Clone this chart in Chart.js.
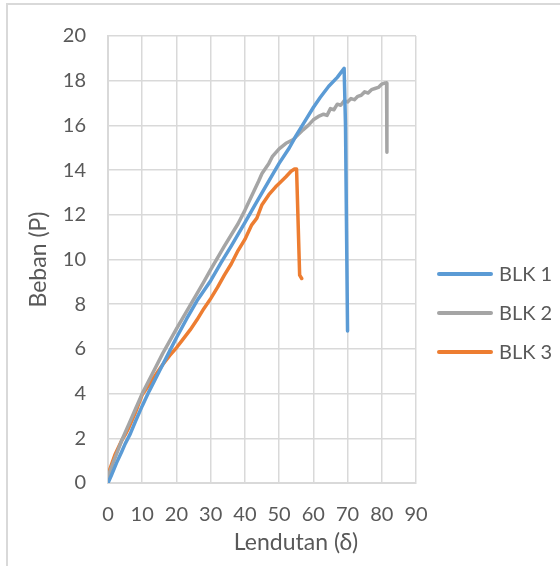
<!DOCTYPE html>
<html>
<head>
<meta charset="utf-8">
<script src="https://cdn.jsdelivr.net/npm/chart.js@4"></script>
<style>
  body{margin:0;background:#fff;}
  #wrap{position:relative;width:560px;height:566px;}
</style>
</head>
<body>
<div id="wrap"><canvas id="myChart" width="560" height="566"></canvas></div>
<script>
// data
const seriesNames = ["BLK 1", "BLK 2", "BLK 3"];
const seriesColors = ["#5B9BD5", "#A5A5A5", "#ED7D31"];

const blk1X = [0, 1, 2.5, 4, 5, 6.5, 8, 10, 12, 15, 18, 20, 23, 26, 30, 33, 36, 40, 43, 46, 50, 53, 55, 58, 60, 62, 64.5, 67, 69, 69.4, 70];
const blk1Y = [0, 0.35, 0.9, 1.4, 1.75, 2.2, 2.75, 3.45, 4.1, 5.0, 5.9, 6.5, 7.35, 8.15, 9.05, 9.85, 10.6, 11.65, 12.45, 13.25, 14.3, 15.0, 15.55, 16.3, 16.8, 17.25, 17.75, 18.15, 18.55, 16.0, 6.8];

const blk2X = [0, 0.5, 2, 4, 6, 8, 10, 13, 16, 20, 24, 28, 30, 34, 38, 40, 42, 44, 45, 47, 48, 50, 52, 54, 55, 57, 58.5, 60, 61.5, 63, 64, 65, 66, 67, 68, 69, 70, 71, 72, 73, 74, 75, 76, 77, 78, 79, 80, 81, 81.4, 81.5];
const blk2Y = [0, 0.5, 1.1, 1.9, 2.6, 3.3, 4.0, 4.9, 5.8, 6.9, 7.95, 9.0, 9.55, 10.6, 11.6, 12.2, 12.85, 13.5, 13.85, 14.3, 14.6, 14.95, 15.2, 15.35, 15.5, 15.8, 16.0, 16.25, 16.4, 16.5, 16.45, 16.75, 16.7, 16.95, 16.9, 17.1, 17.05, 17.2, 17.15, 17.3, 17.35, 17.5, 17.45, 17.6, 17.65, 17.7, 17.85, 17.9, 17.9, 14.8];

const blk3X = [0, 0.5, 2, 4, 5, 6, 8, 10, 12, 14, 16, 18, 20, 22, 24, 26, 28, 30, 32, 34, 36, 38, 40, 42, 43.5, 45, 47, 49, 50, 52, 53.5, 54.5, 55.1, 56, 56.6];
const blk3Y = [0.25, 0.6, 1.25, 1.9, 2.15, 2.45, 3.15, 3.95, 4.4, 4.85, 5.3, 5.7, 6.05, 6.45, 6.85, 7.3, 7.8, 8.25, 8.75, 9.3, 9.8, 10.4, 10.9, 11.55, 11.85, 12.45, 12.9, 13.25, 13.4, 13.7, 13.95, 14.05, 14.05, 9.3, 9.15];

const xTicks = [0, 10, 20, 30, 40, 50, 60, 70, 80, 90];
const yTicks = [0, 2, 4, 6, 8, 10, 12, 14, 16, 18, 20];

function toPoints(xs, ys){
    const pts = [];
    for (let i = 0; i < xs.length; i++) pts.push({x: xs[i], y: ys[i]});
    return pts;
}

const allX = [blk1X, blk2X, blk3X];
const allY = [blk1Y, blk2Y, blk3Y];

const FONT = "Lato, 'Open Sans', sans-serif";
const TXT = "#595959";

// frame, x title and legend drawn on the canvas
const extras = {
    id: "extras",
    beforeDraw(chart){
        const ctx = chart.ctx;
        ctx.save();
        ctx.strokeStyle = "#D9D9D9";
        ctx.lineWidth = 2;
        ctx.strokeRect(7, 4, 700, 700);
        ctx.restore();
    },
    afterDraw(chart){
        const ctx = chart.ctx;
        ctx.save();
        ctx.fillStyle = TXT;
        ctx.font = "23px " + FONT;
        ctx.textAlign = "center";
        ctx.textBaseline = "middle";
        ctx.fillText("Lendutan (\u03B4)", 296, 543);

        ctx.font = "20px " + FONT;
        ctx.textAlign = "left";
        chart.data.datasets.forEach(function(ds, i){
            const y = 274 + i * 39;
            ctx.strokeStyle = ds.borderColor;
            ctx.lineWidth = 4;
            ctx.lineCap = "round";
            ctx.beginPath();
            ctx.moveTo(439, y);
            ctx.lineTo(491, y);
            ctx.stroke();
            ctx.fillText(ds.label, 499, y + 1);
        });
        ctx.restore();
    }
};

new Chart("myChart", {
    type: "scatter",
    data: {
        datasets: seriesNames.map(function(name, i){
            return {
                label: name,
                data: toPoints(allX[i], allY[i]),
                showLine: true,
                borderColor: seriesColors[i],
                backgroundColor: seriesColors[i],
                borderWidth: 3.5,
                pointRadius: 0,
                tension: 0,
                borderJoinStyle: "round",
                borderCapStyle: "round"
            };
        })
    },
    options: {
        responsive: false,
        animation: false,
        layout: {padding: {top: 36, right: 144, bottom: 0, left: 0}},
        plugins: {legend: {display: false}, tooltip: {enabled: false}},
        scales: {
            x: {
                type: "linear",
                min: 0, max: 90,
                afterBuildTicks: function(s){ s.ticks = xTicks.map(v => ({value: v})); },
                afterFit: function(s){ s.height = 83; },
                grid: {color: "#D9D9D9", lineWidth: 1.5, drawTicks: false},
                border: {color: "#D9D9D9", width: 2},
                ticks: {color: TXT, font: {family: FONT, size: 20}, padding: 20, maxRotation: 0}
            },
            y: {
                type: "linear",
                min: 0, max: 20,
                afterBuildTicks: function(s){ s.ticks = yTicks.map(v => ({value: v})); },
                afterFit: function(s){ s.width = 108; },
                grid: {color: "#D9D9D9", lineWidth: 1.5, drawTicks: false},
                border: {color: "#D9D9D9", width: 2},
                ticks: {color: TXT, font: {family: FONT, size: 20}, padding: 22},
                title: {display: true, text: "Beban (P)", color: TXT, font: {family: FONT, size: 23}, padding: {top: 25, bottom: 0}}
            }
        }
    },
    plugins: [extras]
});
</script>
</body>
</html>
